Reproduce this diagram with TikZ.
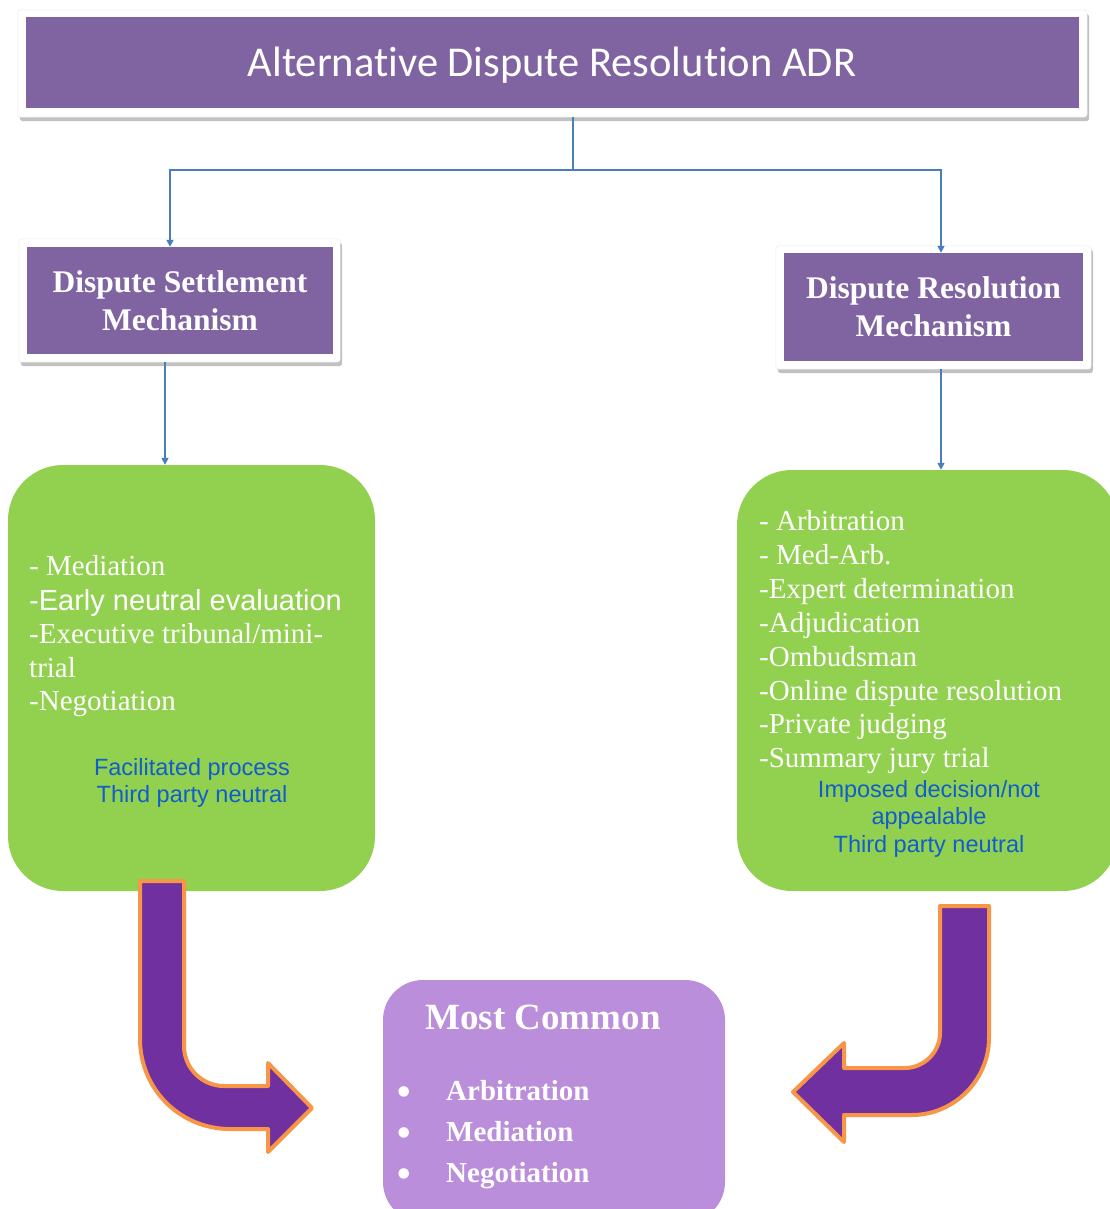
\documentclass[tikz,border=0pt]{standalone}
\usepackage{fontspec}
\setmainfont{Liberation Serif}
\newfontfamily\arialf{Liberation Sans}
\newfontfamily\calibrif[Ligatures={NoCommon}]{Carlito}
\usetikzlibrary{arrows.meta,shadows,backgrounds,calc}
\definecolor{hdrpurple}{HTML}{8064A2}
\definecolor{leafgreen}{HTML}{92D050}
\definecolor{lav}{HTML}{BA8EDB}
\definecolor{arrpurple}{HTML}{7030A0}
\definecolor{arrorange}{HTML}{F79646}
\definecolor{connblue}{HTML}{4A7EBB}
\definecolor{txtblue}{RGB}{16,94,204}
\begin{document}
\begin{tikzpicture}[x=1pt,y=-1pt,
  hdr/.style={fill=hdrpurple,text=white,inner sep=0pt,align=center},
  hdrtext/.style={font=\bfseries\fontsize{31.5}{38}\selectfont},
  leaf/.style={fill=leafgreen,rounded corners=55pt,inner sep=0pt},
  common/.style={fill=lav,rounded corners=40pt,inner sep=0pt},
  wline/.style={text=white,inner sep=0pt,anchor=base west,font=\fontsize{29}{34}\selectfont},
  wsans/.style={text=white,inner sep=0pt,anchor=base west,font=\arialf\fontsize{29}{34}\selectfont},
  bline/.style={text=txtblue,inner sep=0pt,anchor=base,font=\arialf\fontsize{23.5}{28}\selectfont},
  mcword/.style={text=white,inner sep=0pt,anchor=base west,font=\bfseries\fontsize{29}{34}\selectfont},
  mcbullet/.style={text=white,inner sep=0pt,anchor=base,font=\fontsize{44}{48}\selectfont},
  conn/.style={draw=connblue,line width=1.5pt},
  arr/.style={conn,-{Triangle[width=7pt,length=7pt]}},
  bent/.style={fill=arrpurple,draw=arrorange,line width=4pt,line join=round},
  frame/.style={fill=white,draw=black!8,line width=0.5pt,rounded corners=3pt,
    drop shadow={shadow xshift=2pt,shadow yshift=-4pt,opacity=.4,fill=black!60}}
]
\useasboundingbox (0,0) rectangle (1110,1209);

% header boxes
\node[hdr,minimum width=1053pt,minimum height=91pt] (adr) at (552.5,62.5) {};
\node[text=white,inner sep=0pt,anchor=base,font=\calibrif\fontsize{42.5}{48}\selectfont] (adrt) at (552,77) {Alternative Dispute Resolution ADR};
\node[hdr,hdrtext,minimum width=306pt,minimum height=107pt] (dsm) at (180,300.5) {Dispute Settlement\\Mechanism};
\node[hdr,hdrtext,minimum width=299pt,minimum height=108pt] (drm) at (933.5,307) {Dispute Resolution\\Mechanism};

% green boxes
\node[leaf,minimum width=367pt,minimum height=426pt] (lg) at (191.5,678) {};
\node[leaf,minimum width=381pt,minimum height=421pt] (rg) at (927.5,680.5) {};
\node[common,minimum width=342pt,minimum height=242pt] (mc) at (554,1101) {};

\begin{scope}[on background layer]
  \fill[white] (0,0) rectangle (1110,1209);
  \path[frame] ($(adr.north west)+(-8,-7)$) rectangle ($(adr.south east)+(8,9)$);
  \path[frame] ($(dsm.north west)+(-8,-8)$) rectangle ($(dsm.south east)+(7,8)$);
  \path[frame] ($(drm.north west)+(-8,-7)$) rectangle ($(drm.south east)+(8,8)$);
\end{scope}

% connectors
\coordinate (j) at (573,170);
\draw[conn,shorten <=9pt] (j |- adr.south) -- (j);
\draw[arr] (j) -| ([xshift=-10pt]dsm.north);
\draw[arr] (j) -| ([xshift=7.5pt]drm.north);
\draw[arr,shorten <=8pt] ([xshift=-15pt]dsm.south) -- ([xshift=-15pt]dsm.south |- lg.north);
\draw[arr,shorten <=8pt] ([xshift=7.5pt]drm.south) -- ([xshift=7.5pt]drm.south |- rg.north);

% left green text
\node[wline] (l1) at (29,575) {- Mediation};
\node[wsans] (l2) at (29,610) {-Early neutral evaluation};
\node[wline] (l3) at (29,643) {-Executive tribunal/mini-};
\node[wline] (l4) at (29,677) {trial};
\node[wline] (l5) at (29,710) {-Negotiation};
\node[bline] (l6) at (192,775) {Facilitated process};
\node[bline] (l7) at (192,802) {Third party neutral};

% right green text
\node[wline] (r1) at (759,530) {- Arbitration};
\node[wline] (r2) at (759,564) {- Med-Arb.};
\node[wline] (r3) at (759,598) {-Expert determination};
\node[wline] (r4) at (759,632) {-Adjudication};
\node[wline] (r5) at (759,666) {-Ombudsman};
\node[wline] (r6) at (759,700) {-Online dispute resolution};
\node[wline] (r7) at (759,733) {-Private judging};
\node[wline] (r8) at (759,767) {-Summary jury trial};
\node[bline] (r9) at (929,797) {Imposed decision/not};
\node[bline] (r10) at (929,824) {appealable};
\node[bline] (r11) at (929,852) {Third party neutral};

% most common
\node[text=white,inner sep=0pt,anchor=base,font=\bfseries\fontsize{37}{42}\selectfont] (mct) at (543,1029) {Most Common};
\node[mcbullet] (d1) at (404,1106) {•};
\node[mcbullet] (d2) at (404,1147) {•};
\node[mcbullet] (d3) at (404,1188) {•};
\node[mcword] (m1) at (446,1100) {Arbitration};
\node[mcword] (m2) at (446,1141) {Mediation};
\node[mcword] (m3) at (446,1182) {Negotiation};

% bent arrows
\path[bent] (140,881) -- (184,881) -- (184,1046)
  .. controls (184,1068) and (202,1086) .. (224,1086) -- (268,1086) -- (268,1063)
  -- (312,1108) -- (268,1152) -- (268,1129) -- (230,1129)
  .. controls (180,1129) and (140,1089) .. (140,1039) -- cycle;
\path[bent] (940,906) -- (989,906) -- (989,1038)
  .. controls (989,1080) and (954,1115) .. (912,1115) -- (844,1115) -- (844,1142)
  -- (793,1092) -- (844,1043) -- (844,1068) -- (905,1068)
  .. controls (924,1068) and (940,1052) .. (940,1033) -- cycle;
\end{tikzpicture}
\end{document}
